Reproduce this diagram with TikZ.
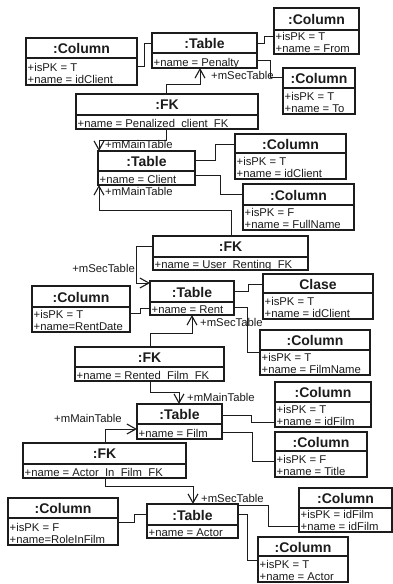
\documentclass[tikz,border=0pt]{standalone}
\usepackage{fontspec}
\setmainfont{Liberation Sans}
\usetikzlibrary{arrows.meta}
\definecolor{linecol}{RGB}{28,28,28}
\tikzset{
  objbox/.style={draw=linecol, fill=white, line width=1.2pt, inner sep=0pt, outer sep=0pt},
  objline/.style={draw=linecol, line width=1.2pt},
  objtitle/.style={inner sep=0pt, font=\fontsize{14}{16}\selectfont\bfseries, text=linecol},
  objattr/.style={inner sep=0pt, anchor=base west, font=\fontsize{11.3}{12}\selectfont, text=linecol},
  lbl/.style={inner sep=0pt, font=\fontsize{11.3}{12}\selectfont, text=linecol},
  conn/.style={draw=linecol, line width=1pt},
  tip/.style={-{Straight Barb[length=9pt,width=10pt,line width=1.1pt]}}
}
\newcommand\umlhead[7]{%
  \node[objbox, minimum width={(#4-#2)*1pt}, minimum height={(#6-#3)*1pt}] (#1) at ({(#2+#4)/2},{(#3+#6)/2}) {};
  \node[objtitle] (#1-t) at ({(#2+#4)/2},{(#3+#5)/2+0.5}) {#7};
  \draw[objline] (#1.west |- 0,#5) -- (#1.east |- 0,#5);
}
\newcommand\umlone[8]{%
  \umlhead{#1}{#2}{#3}{#4}{#5}{#6}{#7}
  \node[objattr] (#1-a) at ({#2+1.5},{#6-1.5}) {#8};
}
\newcommand\umltwo[9]{%
  \umlhead{#1}{#2}{#3}{#4}{#5}{#6}{#7}
  \node[objattr] (#1-a) at ({#2+1.5},{#6-13.5}) {#8};
  \node[objattr] (#1-b) at ({#2+1.5},{#6-1.5}) {#9};
}
\begin{document}
\begin{tikzpicture}[x=1pt,y=-1pt]
\useasboundingbox[fill=white] (0,0) rectangle (393,584);

% objects
\umltwo{colFrom}{274}{8}{359}{30}{54}{:Column}{+isPK = T}{+name = From}
\umltwo{colIdA}{26}{38}{137}{58}{85}{:Column}{+isPK = T}{+name = idClient}
\umlone{tabPen}{152}{33}{257}{53}{68}{:Table}{+name = Penalty}
\umltwo{colTo}{283}{68}{355}{88}{114}{:Column}{+isPK = T}{+name = To}
\umlone{fkPen}{76}{94}{258}{115}{129}{:FK}{+name = Penalized\_client\_FK}
\umltwo{colIdB}{235}{134}{346}{153}{179}{:Column}{+isPK = T}{+name = idClient}
\umlone{tabCli}{98}{151}{195}{171}{185}{:Table}{+name = Client}
\umltwo{colFull}{243}{184}{354}{205}{230}{:Column}{+isPK = F}{+name = FullName}
\umlone{fkUser}{153}{236}{308}{257}{270}{:FK}{+name = User\_Renting\_FK}
\umlone{tabRent}{150}{281}{234}{302}{315}{:Table}{+name = Rent}
\umltwo{colClase}{263}{274}{373}{293}{319}{Clase}{+isPK = T}{+name = idClient}
\umltwo{colRentDate}{32}{286}{130}{307}{332}{:Column}{+isPK = T}{+name=RentDate}
\umltwo{colFilmName}{260}{330}{370}{350}{375}{:Column}{+isPK = T}{+name = FilmName}
\umlone{fkRented}{75}{347}{224}{367}{381}{:FK}{+name = Rented\_Film\_FK}
\umltwo{colIdFilmA}{275}{382}{371}{402}{427}{:Column}{+isPK = T}{+name = idFilm}
\umlone{tabFilm}{137}{404}{222}{424}{439}{:Table}{+name = Film}
\umltwo{colTitle}{275}{432}{367}{451}{477}{:Column}{+isPK = F}{+name = Title}
\umlone{fkActor}{23}{443}{186}{464}{478}{:FK}{+name = Actor\_In\_Film\_FK}
\umltwo{colIdFilmB}{299}{488}{392}{508}{532}{:Column}{+isPK = idFilm}{+name = idFilm}
\umlone{tabActor}{147}{504}{238}{525}{538}{:Table}{+name = Actor}
\umltwo{colRole}{8}{498}{118}{518}{545}{:Column}{+isPK = F}{+name=RoleInFilm}
\umltwo{colActor}{258}{537}{348}{556}{582}{:Column}{+isPK = T}{+name = Actor}

% connectors
\draw[conn] (colIdA.east |- 0,66) -| (144,43) -- (tabPen.west |- 0,43);
\draw[conn] (tabPen.east |- 0,43) -| (264,36) -- (colFrom.west |- 0,36);
\draw[conn] (tabPen.east |- 0,60) -| (270,77) -- (colTo.west |- 0,77);
\draw[conn,tip] (fkPen.north -| 166,0) |- (200,84) -- (tabPen.south -| 200,0);
\node[lbl,anchor=west] (lblD) at (211,75) {+mSecTable};
\draw[conn,tip] (fkPen.south -| 166,0) |- (99,140) -- (tabCli.north -| 99,0);
\node[lbl,anchor=west] (lblE) at (105,144) {+mMainTable};
\draw[conn,tip] (fkUser.north -| 231,0) |- (99,210) -- (tabCli.south -| 99,0);
\node[lbl,anchor=west] (lblF) at (105,191) {+mMainTable};
\draw[conn] (tabCli.east |- 0,160) -| (215,144) -- (colIdB.west |- 0,144);
\draw[conn] (tabCli.east |- 0,175) -| (220,194) -- (colFull.west |- 0,194);
\draw[conn,tip] (fkUser.west |- 0,246) -| (136,283) -- (tabRent.west |- 0,283);
\node[lbl,anchor=east] (lblI) at (135,268) {+mSecTable};
\draw[conn] (tabRent.east |- 0,291) -| (248,284) -- (colClase.west |- 0,284);
\draw[conn] (tabRent.east |- 0,307) -| (247,352) -- (colFilmName.west |- 0,352);
\draw[conn] (colRentDate.east |- 0,313) -| (140,308) -- (tabRent.west |- 0,308);
\draw[conn,tip] (fkRented.north -| 150,0) |- (192,333) -- (tabRent.south -| 192,0);
\node[lbl,anchor=west] (lblM) at (200,322) {+mSecTable};
\draw[conn,tip] (fkRented.south -| 150,0) |- (179,392) -- (tabFilm.north -| 179,0);
\node[lbl,anchor=west] (lblN) at (187,397) {+mMainTable};
\draw[conn] (tabFilm.east |- 0,415) -| (251,422) -- (colIdFilmA.west |- 0,422);
\draw[conn] (tabFilm.east |- 0,432) -| (252,461) -- (colTitle.west |- 0,461);
\draw[conn,tip] (fkActor.north -| 105,0) |- (tabFilm.west |- 0,429);
\node[lbl] (lblQ) at (88,418) {+mMainTable};
\draw[conn,tip] (fkActor.south -| 105,0) |- (193,486) -- (tabActor.north -| 193,0);
\node[lbl,anchor=west] (lblR) at (201,498) {+mSecTable};
\draw[conn] (colRole.east |- 0,522) -| (134,514) -- (tabActor.west |- 0,514);
\draw[conn] (tabActor.east |- 0,505) -| (268,526) -- (colIdFilmB.west |- 0,526);
\draw[conn] (tabActor.east |- 0,514) -| (247,560) -- (colActor.west |- 0,560);
\end{tikzpicture}
\end{document}
